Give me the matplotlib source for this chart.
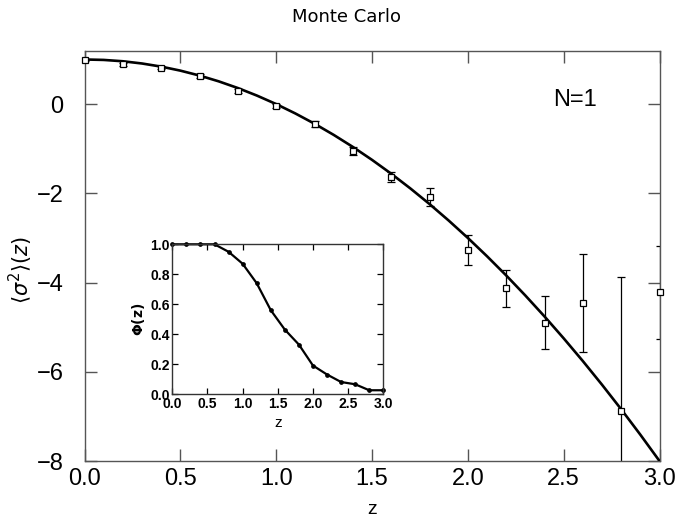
import matplotlib
matplotlib.use("Agg")
import matplotlib.pyplot as plt

# ---- data ----
z_mc = [0.0, 0.2, 0.4, 0.6, 0.8, 1.0, 1.2, 1.4, 1.6, 1.8, 2.0, 2.2, 2.4, 2.6, 2.8, 3.0]
sig_mc = [0.99, 0.89, 0.82, 0.63, 0.29, -0.04, -0.45, -1.05, -1.64, -2.09, -3.27, -4.13, -4.9, -4.45, -6.88, -4.22]
sig_err = [0.02, 0.03, 0.03, 0.04, 0.04, 0.05, 0.06, 0.08, 0.11, 0.2, 0.33, 0.42, 0.6, 1.1, 3.0, 1.05]

z_curve = [0.0, 0.1, 0.2, 0.3, 0.4, 0.5, 0.6, 0.7, 0.8, 0.9, 1.0, 1.1, 1.2, 1.3, 1.4, 1.5,
           1.6, 1.7, 1.8, 1.9, 2.0, 2.1, 2.2, 2.3, 2.4, 2.5, 2.6, 2.7, 2.8, 2.9, 3.0]
sig_curve = [1.0, 0.99, 0.96, 0.91, 0.84, 0.75, 0.64, 0.51, 0.36, 0.19, 0.0, -0.21, -0.44,
             -0.69, -0.96, -1.25, -1.56, -1.89, -2.24, -2.61, -3.0, -3.41, -3.84, -4.29,
             -4.76, -5.25, -5.76, -6.29, -6.84, -7.41, -8.0]

z_phi = [0.0, 0.2, 0.4, 0.6, 0.8, 1.0, 1.2, 1.4, 1.6, 1.8, 2.0, 2.2, 2.4, 2.6, 2.8, 3.0]
phi = [1.0, 1.0, 1.0, 1.0, 0.95, 0.87, 0.74, 0.56, 0.43, 0.33, 0.19, 0.13, 0.08, 0.065, 0.025, 0.025]

main_xticks = [0.0, 0.5, 1.0, 1.5, 2.0, 2.5, 3.0]
main_yticks = [0, -2, -4, -6, -8]
inset_xticks = [0.0, 0.5, 1.0, 1.5, 2.0, 2.5, 3.0]
inset_yticks = [0.0, 0.2, 0.4, 0.6, 0.8, 1.0]

FONT = ["Liberation Sans", "DejaVu Sans"]
plt.rcParams["font.family"] = FONT
plt.rcParams["mathtext.fontset"] = "dejavusans"

fig = plt.figure(figsize=(6.78, 5.2), dpi=100)
ax = fig.add_axes([84.5 / 678, 59 / 520, 575 / 678, 410 / 520])

spine_c = "#555555"
for s in ax.spines.values():
    s.set_color(spine_c)
    s.set_linewidth(1.0)

ax.plot(z_curve, sig_curve, color="black", lw=1.9, zorder=3)
ax.errorbar(z_mc, sig_mc, yerr=sig_err, fmt="none", ecolor="black", elinewidth=0.9,
            capsize=2.6, capthick=0.9, zorder=2)
ax.plot(z_mc, sig_mc, ls="none", marker="s", ms=5, mfc="white", mec="black", mew=0.9,
        clip_on=False, zorder=4)

ax.set_xlim(0, 3.0)
ax.set_ylim(-8, 1.19)
ax.set_xticks(main_xticks)
ax.set_xticklabels([f"{v:.1f}" for v in main_xticks])
ax.set_yticks(main_yticks)
ax.set_yticklabels(["0", "\u22122", "\u22124", "\u22126", "\u22128"])
ax.tick_params(direction="in", length=8.6, width=1.0, color=spine_c, top=True, right=True,
               labelsize=17)
ax.tick_params(axis="x", pad=5)
ax.tick_params(axis="y", pad=15)
ax.set_xlabel("z", fontsize=14, labelpad=8)
ax.set_ylabel(r"$\langle\sigma^2\rangle(z)$", fontsize=15)
ax.yaxis.set_label_coords(-0.086, 0.466)
ax.text(0.853, 0.88, "N=1", transform=ax.transAxes, fontsize=17, ha="center", va="center")
fig.text(346 / 678, 1 - 17 / 520, "Monte Carlo", fontsize=13, ha="center", va="center",
         family=["DejaVu Sans"])

# ---- inset ----
ins = fig.add_axes([172.3 / 678, 126 / 520, 211 / 678, 149.7 / 520])
for s in ins.spines.values():
    s.set_color("#333333")
    s.set_linewidth(1.0)
ins.plot(z_phi, phi, color="black", lw=1.6, marker="o", ms=2.4, clip_on=False)
ins.set_xlim(0, 3.0)
ins.set_ylim(0, 1.0)
ins.set_xticks(inset_xticks)
ins.set_xticklabels([f"{v:.1f}" for v in inset_xticks])
ins.set_yticks(inset_yticks)
ins.set_yticklabels([f"{v:.1f}" for v in inset_yticks])
ins.tick_params(direction="in", length=4, width=0.9, top=True, right=True, labelsize=10,
                pad=2)
for lab in ins.get_xticklabels() + ins.get_yticklabels():
    lab.set_fontweight("bold")
ins.set_xlabel("z", fontsize=11, labelpad=4)
ins.set_ylabel(r"$\mathbf{\Phi(z)}$", fontsize=10, labelpad=2)

fig.savefig("out.png", dpi=100)
